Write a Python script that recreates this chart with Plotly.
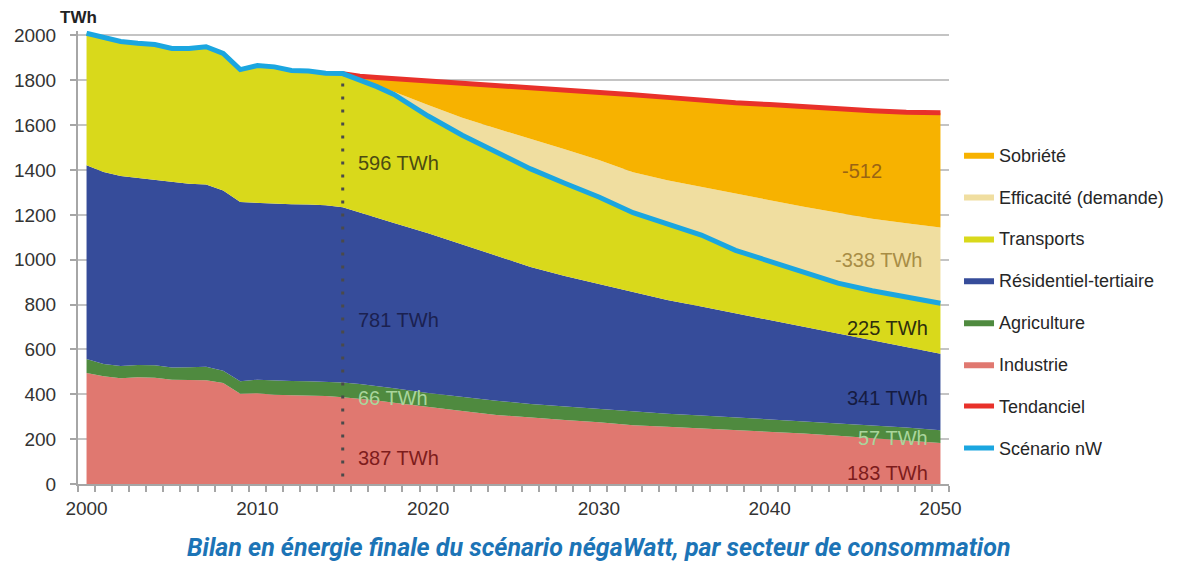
import plotly.graph_objects as go

# ---------------- data (TWh) ----------------
years = list(range(2000, 2016)) + [2016, 2017, 2018] + list(range(2020, 2051, 2))

industrie = [495, 480, 472, 476, 474, 465, 464, 463, 450, 402, 405, 398, 396, 395, 392, 387,
             380, 372, 362, 342, 325, 308, 295, 285, 275, 262, 255, 248, 240, 232, 225, 215, 205, 195, 183]
agriculture = [62, 55, 54, 55, 55, 55, 57, 60, 55, 56, 60, 63, 63, 63, 64, 66,
               66, 65, 65, 64, 63, 63, 62, 61, 60, 59, 58, 58, 57, 57, 56, 56, 56, 57, 57]
residentiel = [864, 856, 847, 833, 825, 826, 818, 812, 804, 799, 788, 790, 788, 788, 787, 781,
               764, 750, 737, 712, 681, 648, 611, 582, 557, 533, 508, 485, 464, 442, 421, 402, 381, 360, 341]
transports = [589, 599, 600, 601, 606, 596, 603, 615, 611, 591, 613, 609, 597, 596, 589, 596,
              593, 585, 573, 523, 486, 459, 437, 413, 388, 356, 339, 319, 281, 262, 240, 223, 220, 223, 225]
efficacite = [0] * 16 + [0, 4, 12, 49, 78, 107, 135, 152, 165, 180, 195, 215, 251, 272, 294, 314, 321, 328, 338]
sobriete = [0] * 16 + [15, 37, 59, 110, 157, 193, 229, 265, 301, 346, 369, 385, 407, 427, 446, 463, 481, 495, 512]

# lines derived from the stacked sectors
scenario_nw = [a + b + c + d for a, b, c, d in zip(industrie, agriculture, residentiel, transports)]
tendanciel = [s + e + o if y >= 2015 else None
              for y, s, e, o in zip(years, scenario_nw, efficacite, sobriete)]

labels_left = [("596 TWh", 1430, "#4b4b12"), ("781 TWh", 730, "#1b2150"),
               ("66 TWh", 383, "#a9d59c"), ("387 TWh", 116, "#7d1c1c")]
labels_right = [("-512", 1394, "#9a6414", 2045.43, "center"),
                ("-338 TWh", 998, "#a88d45", 2049.06, "right"),
                ("225 TWh", 695, "#2d2d0d", 2049.41, "right"),
                ("341 TWh", 383, "#151b40", 2049.41, "right"),
                ("57 TWh", 205, "#a9d59c", 2049.41, "right"),
                ("183 TWh", 49, "#7d1c1c", 2049.41, "right")]

FONT = "Liberation Sans, Arial, sans-serif"

fig = go.Figure()

areas = [
    ("Industrie", industrie, "#e07870", 6),
    ("Agriculture", agriculture, "#4f8a3f", 5),
    ("Résidentiel-tertiaire", residentiel, "#364c9a", 4),
    ("Transports", transports, "#d9d91b", 3),
    ("Efficacité (demande)", efficacite, "#f0dea0", 2),
    ("Sobriété", sobriete, "#f7b200", 1),
]
for name, vals, col, rank in areas:
    fig.add_trace(go.Scatter(
        x=years, y=vals, name=name, mode="lines", stackgroup="one",
        line=dict(width=0, color=col), fillcolor=col,
        legendrank=rank, legendgroup=name,
    ))

fig.add_trace(go.Scatter(x=years, y=tendanciel, name="Tendanciel", mode="lines",
                         line=dict(color="#e8312a", width=5), legendrank=7,
                         legendgroup="Tendanciel"))
fig.add_trace(go.Scatter(x=years, y=scenario_nw, name="Scénario nW", mode="lines",
                         line=dict(color="#1ba6e0", width=5), legendrank=8,
                         legendgroup="Scénario nW"))

# dotted separator at 2015
fig.add_shape(type="line", x0=2015, x1=2015, y0=-25, y1=1830, xref="x", yref="y",
              line=dict(color="#4a4a4a", width=3, dash="3px,10px"), layer="above")

for txt, yv, col in labels_left:
    fig.add_annotation(x=2015.75, y=yv, text=txt, showarrow=False, xanchor="left",
                       yanchor="middle", font=dict(family=FONT, size=20, color=col))
for txt, yv, col, xv, anc in labels_right:
    fig.add_annotation(x=xv, y=yv, text=txt, showarrow=False, xanchor=anc,
                       yanchor="middle", font=dict(family=FONT, size=20, color=col))

fig.add_annotation(x=0.0, y=1.029, xref="paper", yref="paper", text="<b>TWh</b>",
                   showarrow=False, xanchor="center", yanchor="middle",
                   font=dict(family=FONT, size=17, color="#222"))
fig.add_annotation(x=0.598, y=-0.141, xref="paper", yref="paper",
                   text="<i><b>Bilan en énergie finale du scénario négaWatt, par secteur de consommation</b></i>",
                   showarrow=False, xanchor="center", yanchor="middle",
                   font=dict(family="Roboto, sans-serif", size=25, color="#1c74b6"))

fig.update_layout(
    width=1200, height=566,
    margin=dict(l=70, r=259, t=23, b=90, autoexpand=False),
    plot_bgcolor="white", paper_bgcolor="white",
    font=dict(family=FONT, size=19, color="#333"),
    showlegend=True,
    legend=dict(x=1.0115, y=0.403, xanchor="left", yanchor="middle",
                traceorder="grouped", tracegroupgap=15.5, itemwidth=30,
                font=dict(family=FONT, size=18, color="#262626"), bgcolor="rgba(0,0,0,0)"),
    hovermode=False,
)
fig.update_xaxes(range=[1999.5, 2050.5], tickmode="linear", tick0=2000, dtick=10,
                 automargin=False,
                 showgrid=False, zeroline=False, showline=True, linecolor="#a6a6a6", linewidth=2,
                 ticks="outside", ticklen=6, tickcolor="rgba(0,0,0,0)", tickwidth=1.5,
                 minor=dict(tick0=1999.5, dtick=1, ticks="outside", ticklen=6,
                            tickcolor="#a6a6a6", tickwidth=1.5),
                 tickfont=dict(family=FONT, size=19, color="#333"))
fig.update_yaxes(range=[0, 2020], tickmode="linear", tick0=0, dtick=200,
                 automargin=False,
                 showgrid=True, gridcolor="#c4c4c4", gridwidth=2, zeroline=False,
                 showline=True, linecolor="#a6a6a6", linewidth=2,
                 ticks="outside", ticklen=6, tickcolor="#a6a6a6", tickwidth=1.5,
                 ticklabelstandoff=10,
                 tickfont=dict(family=FONT, size=19, color="#333"))

fig.write_html("out.html")
